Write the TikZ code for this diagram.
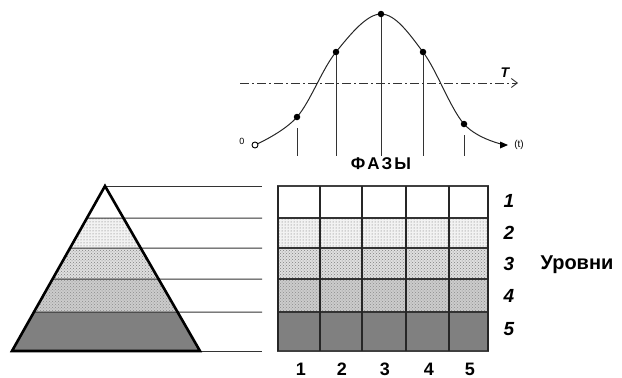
\documentclass[tikz,border=0pt]{standalone}
\usepackage{fontspec}
\setmainfont{Liberation Sans}
\usetikzlibrary{patterns,arrows.meta,calc}
\begin{document}
\begin{tikzpicture}[x=1pt,y=-1pt,
  thinln/.style={line width=1pt,black!80},
  thickln/.style={line width=2.4pt,black!85},
  dotpt/.style={circle,fill=black,inner sep=0pt,minimum size=6.5pt},
  lvl/.style={font=\bfseries\itshape\fontsize{19}{19}\selectfont,anchor=center},
  num/.style={font=\bfseries\fontsize{18}{18}\selectfont,anchor=center},
  band2/.style={fill=gray!10,postaction={pattern=dots,pattern color=black!60}},
  band3/.style={fill=gray!25,postaction={pattern=crosshatch dots,pattern color=black!50}},
  band4/.style={fill=gray!40,postaction={pattern=crosshatch dots,pattern color=black!45}},
  band5/.style={fill=black!50}]
\useasboundingbox (0,0) rectangle (622,378);
% ---------- curve ----------
\coordinate (c0) at (255,145);
\coordinate (c1) at (297,117);
\coordinate (c2) at (336,52);
\coordinate (c3) at (381,14);
\coordinate (c4) at (423,52);
\coordinate (c5) at (464,124);
\coordinate (c6) at (505,145);
\coordinate (ax0) at (240,83);
\coordinate (ax1) at (518,83);
\draw[line width=0.9pt,black!80,dash pattern=on 9pt off 3pt on 2pt off 3pt,-{Straight Barb[length=6pt,width=9pt]}] (ax0) -- (ax1);
\node[font=\bfseries\itshape\fontsize{14}{14}\selectfont] (tl) at (505,73) {T};
\draw[line width=1pt,black!85] plot[smooth,tension=0.6] coordinates {(c0) (c1) (c2) (c3) (c4) (c5) (c6)};
\node[circle,draw,line width=0.9pt,inner sep=0pt,minimum size=6pt,fill=white] (o) at (c0) {};
\node[font=\fontsize{9}{9}\selectfont] (zl) at (242,141) {0};
\fill[black] (c6) ++(3,0) -- ++(-8,-3.5) -- ++(0,7) -- cycle;
\node[font=\fontsize{10}{10}\selectfont] (tt) at (519,145) {(t)};
\node[dotpt] (d1) at (c1) {};
\node[dotpt] (d2) at (c2) {};
\node[dotpt] (d3) at (c3) {};
\node[dotpt] (d4) at (c4) {};
\node[dotpt] (d5) at (c5) {};
\coordinate (b1) at (297,156);
\coordinate (b2) at (336,156);
\coordinate (b3) at (381,156);
\coordinate (b4) at (423,156);
\coordinate (b5) at (464,156);
\draw[thinln] (297,128) -- (b1);
\draw[thinln] (d2) -- (b2);
\draw[thinln] (d3) -- (b3);
\draw[thinln] (d4) -- (b4);
\draw[thinln] (464,135) -- (b5);
\node[font=\bfseries\fontsize{17}{17}\selectfont] (faz) at (381,164) {Ф\kern2ptА\kern2ptЗ\kern2ptЫ};
% ---------- pyramid ----------
\coordinate (A) at (105,186);
\coordinate (L) at (12,351);
\coordinate (R) at (200,351);
\begin{scope}
\clip (A) -- (L) -- (R) -- cycle;
\fill[white] (0,186) rectangle (262,218);
\path[band2] (0,218) rectangle (262,248);
\path[band3] (0,248) rectangle (262,279);
\path[band4] (0,279) rectangle (262,312);
\path[band5] (0,312) rectangle (262,352);
\end{scope}
\coordinate (e0) at (262,186);
\coordinate (e1) at (262,218);
\coordinate (e2) at (262,248);
\coordinate (e3) at (262,279);
\coordinate (e4) at (262,312);
\coordinate (e5) at (262,351);
\coordinate (p1) at ($(A)!{32/165}!(L)$);
\coordinate (p2) at ($(A)!{62/165}!(L)$);
\coordinate (p3) at ($(A)!{93/165}!(L)$);
\coordinate (p4) at ($(A)!{126/165}!(L)$);
\draw[thinln] (A) -- (e0);
\draw[thinln] (p1) -- (e1);
\draw[thinln] (p2) -- (e2);
\draw[thinln] (p3) -- (e3);
\draw[thinln] (p4) -- (e4);
\draw[thinln] (R) -- (e5);
\draw[line width=2.6pt,black,line join=miter] (A) -- (L) -- (R) -- cycle;
% ---------- grid ----------
\fill[white] (278,186) rectangle (488,218);
\path[band2] (278,218) rectangle (488,248);
\path[band3] (278,248) rectangle (488,279);
\path[band4] (278,279) rectangle (488,312);
\path[band5] (278,312) rectangle (488,351);
\foreach \y in {218,248,279,312}{\draw[line width=1.3pt,black!80] (278,\y) -- (488,\y);}
\draw[line width=1.8pt,black!75] (278,186) rectangle (488,351);
\foreach \x in {278,320,362,406,449,488}{\draw[thickln] (\x,186) -- (\x,351);}
\node[lvl] (l1) at (509,201) {1};
\node[lvl] (l2) at (509,233) {2};
\node[lvl] (l3) at (509,264) {3};
\node[lvl] (l4) at (509,296) {4};
\node[lvl] (l5) at (509,329) {5};
\node[font=\bfseries\fontsize{20}{20}\selectfont] (urov) at (577,265) {Уровни};
\node[num] (n1) at (301,369) {1};
\node[num] (n2) at (342,369) {2};
\node[num] (n3) at (385,369) {3};
\node[num] (n4) at (429,369) {4};
\node[num] (n5) at (470,369) {5};
\end{tikzpicture}
\end{document}
